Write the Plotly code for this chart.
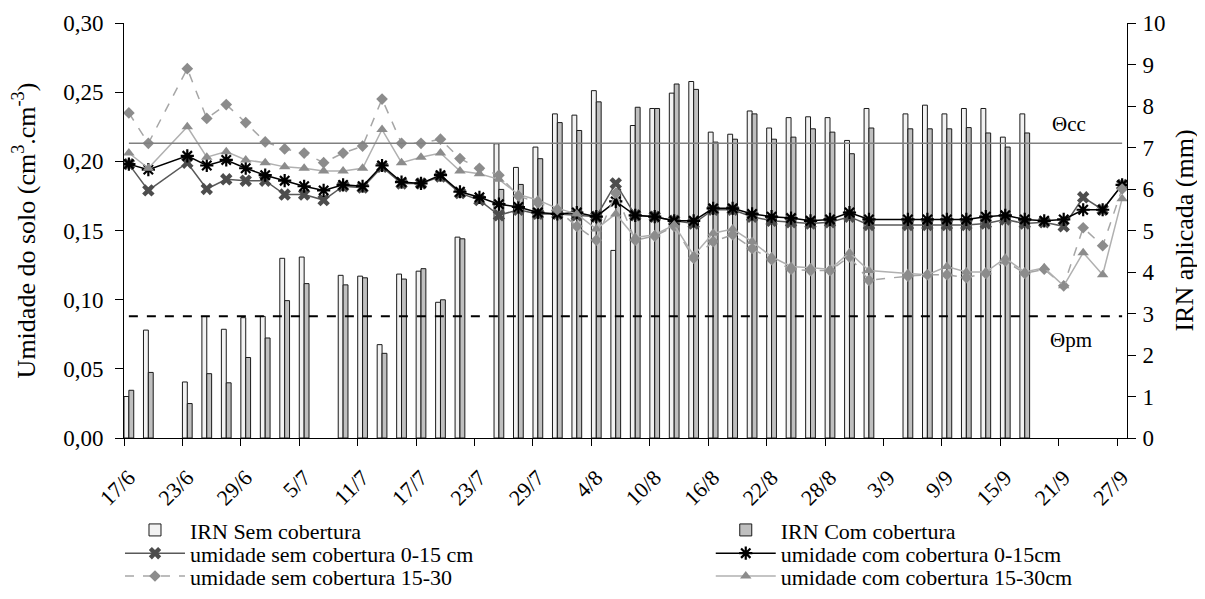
import plotly.graph_objects as go

# ---------------- data ----------------
tick_labels = ["17/6", "23/6", "29/6", "5/7", "11/7", "17/7", "23/7", "29/7", "4/8",
               "10/8", "16/8", "22/8", "28/8", "3/9", "9/9", "15/9", "21/9", "27/9"]
tick_days = [0, 6, 12, 18, 24, 30, 36, 42, 48, 54, 60, 66, 72, 78, 84, 90, 96, 102]

# irrigation days (days after 17/6) and IRN applied (mm)
irr_days = [0, 2, 6, 8, 10, 12, 14, 16, 18, 22, 24, 26, 28, 30, 32, 34, 38, 40, 42, 44,
            46, 48, 50, 52, 54, 56, 58, 60, 62, 64, 66, 68, 70, 72, 74, 76, 80, 82, 84,
            86, 88, 90, 92]
irn_sem = [1.00, 2.60, 1.35, 2.93, 2.62, 2.90, 2.93, 4.33, 4.36, 3.92, 3.90, 2.25, 3.95,
           4.02, 3.27, 4.84, 7.09, 6.52, 7.01, 7.81, 7.78, 8.37, 4.52, 7.53, 7.94, 8.31,
           8.59, 7.37, 7.32, 7.88, 7.47, 7.72, 7.74, 7.72, 7.17, 7.94, 7.81, 8.02, 7.81,
           7.94, 7.94, 7.25, 7.81]
irn_com = [1.15, 1.58, 0.83, 1.55, 1.33, 1.94, 2.41, 3.31, 3.72, 3.69, 3.86, 2.04, 3.83,
           4.08, 3.33, 4.80, 5.99, 6.11, 6.73, 7.60, 7.41, 8.10, 6.00, 7.97, 7.94, 8.53,
           8.40, 7.13, 7.20, 7.81, 7.20, 7.25, 7.45, 7.37, 6.85, 7.47, 7.45, 7.45, 7.45,
           7.48, 7.35, 7.01, 7.35]

# soil moisture sampling days and values (cm3.cm-3)
moist_days = [0, 2, 6, 8, 10, 12, 14, 16, 18, 20, 22, 24, 26, 28, 30, 32, 34, 36, 38, 40,
              42, 44, 46, 48, 50, 52, 54, 56, 58, 60, 62, 64, 66, 68, 70, 72, 74, 76, 80,
              82, 84, 86, 88, 90, 92, 94, 96, 98, 100, 102]
sem_0_15 = [0.198, 0.179, 0.199, 0.180, 0.187, 0.186, 0.186, 0.176, 0.176, 0.172, 0.182,
            0.181, 0.196, 0.184, 0.184, 0.189, 0.177, 0.172, 0.161, 0.165, 0.162, 0.162,
            0.161, 0.160, 0.184, 0.161, 0.160, 0.157, 0.155, 0.165, 0.165, 0.160, 0.157,
            0.156, 0.155, 0.156, 0.160, 0.154, 0.154, 0.154, 0.154, 0.154, 0.155, 0.158,
            0.155, 0.156, 0.153, 0.174, 0.165, 0.183]
com_0_15 = [0.198, 0.194, 0.204, 0.197, 0.201, 0.195, 0.190, 0.186, 0.182, 0.179, 0.183,
            0.182, 0.197, 0.185, 0.184, 0.190, 0.178, 0.174, 0.169, 0.167, 0.163, 0.162,
            0.163, 0.160, 0.171, 0.161, 0.160, 0.157, 0.157, 0.166, 0.166, 0.162, 0.160,
            0.159, 0.157, 0.158, 0.163, 0.158, 0.158, 0.158, 0.158, 0.158, 0.160, 0.161,
            0.158, 0.157, 0.158, 0.165, 0.165, 0.183]
sem_15_30 = [0.235, 0.213, 0.267, 0.231, 0.241, 0.228, 0.214, 0.209, 0.206, 0.199, 0.206,
             0.211, 0.245, 0.213, 0.213, 0.216, 0.202, 0.195, 0.190, 0.175, 0.170, 0.165,
             0.153, 0.143, 0.177, 0.143, 0.146, 0.153, 0.130, 0.142, 0.147, 0.137, 0.129,
             0.122, 0.121, 0.121, 0.131, 0.114, 0.117, 0.118, 0.118, 0.116, 0.119, 0.128,
             0.119, 0.122, 0.110, 0.152, 0.139, 0.180]
com_15_30 = [0.206, 0.195, 0.225, 0.203, 0.207, 0.201, 0.199, 0.196, 0.195, 0.193, 0.193,
             0.195, 0.223, 0.199, 0.203, 0.206, 0.193, 0.191, 0.187, 0.176, 0.172, 0.166,
             0.162, 0.151, 0.162, 0.145, 0.147, 0.154, 0.132, 0.148, 0.151, 0.142, 0.131,
             0.124, 0.123, 0.122, 0.134, 0.121, 0.119, 0.118, 0.124, 0.120, 0.120, 0.130,
             0.120, 0.123, 0.110, 0.134, 0.118, 0.173]

THETA_CC = 0.213
THETA_PM = 0.088

FONT = "Liberation Serif"

fig = go.Figure()

# bars (IRN) on right axis (primary y, drawn below the lines)
fig.add_trace(go.Bar(x=irr_days, y=irn_sem, name="IRN Sem cobertura", yaxis="y",
                     legend="legend", width=0.5, offset=-0.5,
                     marker=dict(color="#f2f2f2", line=dict(color="#1a1a1a", width=1))))
fig.add_trace(go.Bar(x=irr_days, y=irn_com, name="IRN Com cobertura", yaxis="y",
                     legend="legend2", width=0.5, offset=0.0,
                     marker=dict(color="#bfbfbf", line=dict(color="#1a1a1a", width=1))))

# moisture lines on left axis (y2, drawn above)
fig.add_trace(go.Scatter(x=moist_days, y=sem_0_15, name="umidade sem cobertura 0-15 cm",
                         yaxis="y2", legend="legend3", mode="lines+markers",
                         line=dict(color="#595959", width=1.5),
                         marker=dict(symbol="x", size=11, color="#4d4d4d")))
fig.add_trace(go.Scatter(x=moist_days, y=com_0_15, name="umidade com cobertura 0-15cm",
                         yaxis="y2", legend="legend4", mode="lines+markers",
                         line=dict(color="#000000", width=1.5),
                         marker=dict(symbol="asterisk-open", size=11, color="#000000",
                                     line=dict(color="#000000", width=2.2))))
fig.add_trace(go.Scatter(x=moist_days, y=sem_15_30, name="umidade sem cobertura 15-30",
                         yaxis="y2", legend="legend5", mode="lines+markers",
                         line=dict(color="#a6a6a6", width=1.5, dash="dash"),
                         marker=dict(symbol="diamond", size=9, color="#8c8c8c")))
fig.add_trace(go.Scatter(x=moist_days, y=com_15_30, name="umidade com cobertura 15-30cm",
                         yaxis="y2", legend="legend6", mode="lines+markers",
                         line=dict(color="#b0b0b0", width=1.5),
                         marker=dict(symbol="triangle-up", size=10, color="#8c8c8c")))

# reference lines (field capacity / wilting point)
fig.add_shape(type="line", xref="x", yref="y2", x0=moist_days[0], x1=moist_days[-1],
              y0=THETA_CC, y1=THETA_CC, line=dict(color="#808080", width=1.5), layer="above")
fig.add_shape(type="line", xref="x", yref="y2", x0=moist_days[0], x1=moist_days[-1],
              y0=THETA_PM, y1=THETA_PM, line=dict(color="#000000", width=2.2, dash="dash"),
              layer="above")
fig.add_annotation(x=96.5, y=0.227, xref="x", yref="y2", text="Θcc", showarrow=False,
                   font=dict(family=FONT, size=21, color="black"))
fig.add_annotation(x=96.8, y=0.071, xref="x", yref="y2", text="Θpm", showarrow=False,
                   font=dict(family=FONT, size=21, color="black"))

legend_common = dict(orientation="v", xanchor="left", yanchor="middle",
                     font=dict(family=FONT, size=22, color="black"), itemwidth=60,
                     bgcolor="rgba(0,0,0,0)", borderwidth=0, tracegroupgap=0)
col_x = [-0.004, 0.585]
row_y = [-0.222, -0.278, -0.333]

# the page adds an 8px body margin, so the figure is sized to fit the window
fig.update_layout(
    width=1197, height=591,
    margin=dict(l=116, r=78, t=15, b=161, autoexpand=False),
    plot_bgcolor="white", paper_bgcolor="white",
    separators=", ",
    barmode="overlay",
    showlegend=True,
    font=dict(family=FONT, size=20, color="black"),
    xaxis=dict(
        range=[-0.5, 102.5],
        tickmode="array", tickvals=tick_days, ticktext=tick_labels,
        tickangle=-45, ticks="", ticklabelstandoff=17, showgrid=False, zeroline=False,
        showline=True, linecolor="black", linewidth=1,
        minor=dict(tick0=-0.5, dtick=6, ticks="outside", ticklen=7,
                   tickcolor="black", showgrid=False),
        tickfont=dict(family=FONT, size=22),
    ),
    yaxis=dict(
        range=[0, 10], dtick=1, side="right",
        ticks="outside", ticklen=8, tickcolor="black", ticklabelstandoff=2,
        showline=True, linecolor="black", linewidth=1,
        showgrid=False, zeroline=False,
        title=dict(text="IRN aplicada (mm)", font=dict(family=FONT, size=26), standoff=10),
        tickfont=dict(family=FONT, size=23),
    ),
    yaxis2=dict(
        range=[0, 0.30], dtick=0.05, tickformat=".2f", side="left", overlaying="y",
        ticks="outside", ticklen=8, tickcolor="black", ticklabelstandoff=7,
        showline=True, linecolor="black", linewidth=1,
        showgrid=False, zeroline=False,
        title=dict(text="Umidade do solo (cm<sup>3</sup>.cm<sup>-3</sup>)",
                   font=dict(family=FONT, size=26), standoff=26),
        tickfont=dict(family=FONT, size=23),
    ),
    legend=dict(x=col_x[0], y=row_y[0], **legend_common),
    legend2=dict(x=col_x[1], y=row_y[0], **legend_common),
    legend3=dict(x=col_x[0], y=row_y[1], **legend_common),
    legend4=dict(x=col_x[1], y=row_y[1], **legend_common),
    legend5=dict(x=col_x[0], y=row_y[2], **legend_common),
    legend6=dict(x=col_x[1], y=row_y[2], **legend_common),
)

fig.write_html("out.html")
